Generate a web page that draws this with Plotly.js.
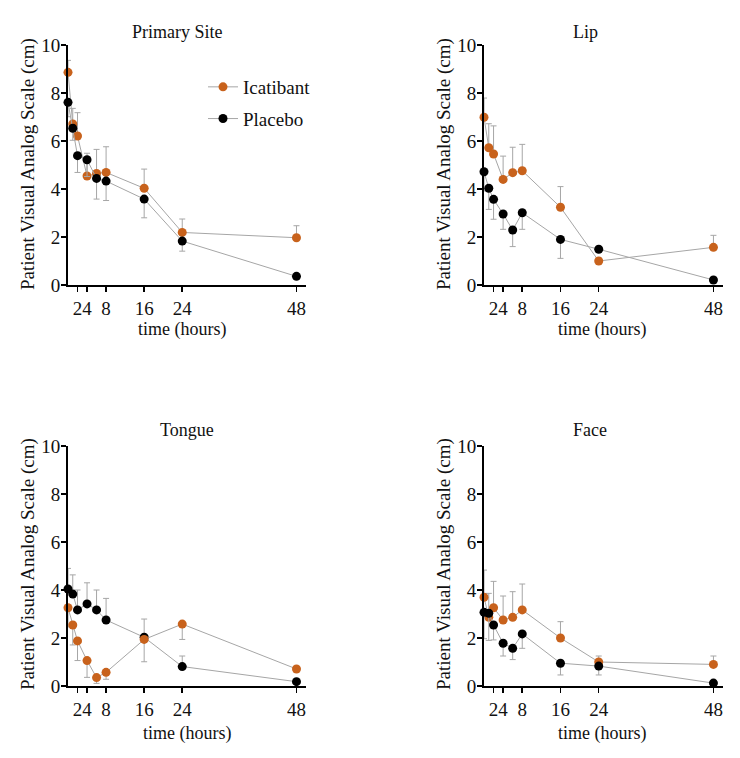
<!DOCTYPE html>
<html lang="en">
<head>
    <meta charset="UTF-8">
    <title>Patient Visual Analog Scale</title>
    <script src="https://cdn.plot.ly/plotly-3.0.1.min.js"></script>
    <style>
        body {
            margin: 0;
            padding: 0;
            background-color: white;
        }
        #chart {
            width: 740px;
            height: 758px;
        }
    </style>
</head>
<body>
    <div id="chart"></div>

    <script>
        // time points (hours)
        const hours = [0, 1, 2, 4, 6, 8, 16, 24, 48];
        const tickHours = [2, 4, 8, 16, 24, 48];

        // Primary Site
        const primaryIcat = [8.86, 6.71, 6.21, 4.54, 4.65, 4.69, 4.03, 2.19, 1.97];
        const primaryIcatErr = [0.5, 0.65, 0.97, 0.95, 1.0, 1.07, 0.8, 0.56, 0.5];
        const primaryPlac = [7.61, 6.53, 5.39, 5.22, 4.44, 4.33, 3.58, 1.83, 0.36];
        const primaryPlacErr = [0.6, 0.5, 0.7, 0.7, 0.86, 0.81, 0.78, 0.42, 0.05];

        // Lip
        const lipIcat = [6.99, 5.72, 5.46, 4.40, 4.68, 4.76, 3.24, 1.0, 1.57];
        const lipIcatErr = [0.8, 1.0, 1.17, 0.97, 1.06, 1.1, 0.86, 0.12, 0.5];
        const lipPlac = [4.72, 4.03, 3.57, 2.96, 2.29, 3.01, 1.9, 1.49, 0.21];
        const lipPlacErr = [0.8, 0.88, 0.83, 0.64, 0.69, 0.69, 0.79, 0.1, 0.05];

        // Tongue
        const tongueIcat = [3.26, 2.54, 1.88, 1.06, 0.35, 0.57, 1.94, 2.58, 0.71];
        const tongueIcatErr = [0.8, 0.83, 0.82, 0.7, 0.24, 0.29, 0.93, 0.64, 0.05];
        const tonguePlac = [4.04, 3.83, 3.17, 3.42, 3.17, 2.75, 2.03, 0.81, 0.18];
        const tonguePlacErr = [0.86, 0.8, 0.83, 0.88, 0.83, 0.9, 0.76, 0.44, 0.05];

        // Face
        const faceIcat = [3.7, 2.86, 3.26, 2.75, 2.86, 3.17, 2.0, 1.0, 0.9];
        const faceIcatErr = [1.13, 1.0, 1.1, 1.0, 1.07, 1.08, 0.68, 0.25, 0.35];
        const facePlac = [3.07, 3.03, 2.54, 1.78, 1.57, 2.17, 0.95, 0.83, 0.12];
        const facePlacErr = [1.1, 1.13, 0.62, 0.53, 0.47, 0.6, 0.49, 0.37, 0.05];

        const ORANGE = '#c8621c';
        const LINE = '#a6a6a6';
        const FONT = 'Liberation Serif';
        const TXT = '#111';

        const zeros = hours.map(() => 0);

        // one-sided error bars, like the original
        function series(name, y, err, up, color, ax, showlegend) {
            return {
                x: hours,
                y: y,
                name: name,
                type: 'scatter',
                mode: 'lines+markers',
                xaxis: 'x' + ax,
                yaxis: 'y' + ax,
                cliponaxis: false,
                showlegend: showlegend,
                line: { color: LINE, width: 1 },
                marker: { color: color, size: 9 },
                error_y: {
                    type: 'data',
                    symmetric: false,
                    array: up ? err : zeros,
                    arrayminus: up ? zeros : err,
                    color: LINE,
                    thickness: 1,
                    width: 3
                }
            };
        }

        const data = [
            series('Icatibant', primaryIcat, primaryIcatErr, true, ORANGE, '', true),
            series('Placebo', primaryPlac, primaryPlacErr, false, 'black', '', true),
            series('Icatibant', lipIcat, lipIcatErr, true, ORANGE, '2', false),
            series('Placebo', lipPlac, lipPlacErr, false, 'black', '2', false),
            series('Placebo', tonguePlac, tonguePlacErr, true, 'black', '3', false),
            series('Icatibant', tongueIcat, tongueIcatErr, false, ORANGE, '3', false),
            series('Icatibant', faceIcat, faceIcatErr, true, ORANGE, '4', false),
            series('Placebo', facePlac, facePlacErr, false, 'black', '4', false)
        ];

        // panel boxes in pixels: [left, right, top, bottom]
        const W = 740, H = 758;
        const boxes = [[68, 306, 45, 285], [484, 723, 45, 285], [68, 306, 446, 686], [484, 723, 446, 686]];

        function xAxis(b) {
            return {
                domain: [b[0] / W, b[1] / W],
                range: [0, 50],
                tickvals: tickHours,
                tickangle: 0,
                ticks: 'outside', ticklen: 5, tickwidth: 1.5, tickcolor: 'black',
                showline: true, linecolor: 'black', linewidth: 2,
                showgrid: false, zeroline: false,
                tickfont: { family: FONT, size: 19, color: TXT }
            };
        }
        function yAxis(b) {
            return {
                domain: [(H - b[3]) / H, (H - b[2]) / H],
                range: [0, 10],
                tickvals: [0, 2, 4, 6, 8, 10],
                ticks: 'outside', ticklen: 5, tickwidth: 1.5, tickcolor: 'black',
                ticklabelstandoff: -3,
                showline: true, linecolor: 'black', linewidth: 2,
                showgrid: false, zeroline: false,
                tickfont: { family: FONT, size: 19, color: TXT }
            };
        }

        // panel titles, placed like the original (in hours along x)
        const titles = [['Primary Site', 22.9, ''], ['Lip', 21.2, '2'], ['Tongue', 24.9, '3'], ['Face', 22.2, '4']];

        const annotations = [];
        titles.forEach((t, i) => {
            annotations.push({
                text: t[0], xref: 'x' + t[2], yref: 'paper',
                x: t[1], y: 1 - (i < 2 ? 32 : 430) / H,
                xanchor: 'center', yanchor: 'middle',
                showarrow: false,
                font: { family: FONT, size: 18, color: TXT }
            });
        });

        // axis titles as annotations so they sit where the original has them
        const xTitlePos = [[182, 329], [602, 329], [187, 733], [602, 733]];
        xTitlePos.forEach(p => {
            annotations.push({
                text: 'time (hours)', xref: 'paper', yref: 'paper',
                x: p[0] / W, y: 1 - p[1] / H,
                xanchor: 'center', yanchor: 'middle',
                showarrow: false,
                font: { family: FONT, size: 18, color: TXT }
            });
        });
        const yTitlePos = [[28, 164], [444, 164], [28, 564], [444, 564]];
        yTitlePos.forEach(p => {
            annotations.push({
                text: 'Patient Visual Analog Scale (cm)', xref: 'paper', yref: 'paper',
                x: p[0] / W, y: 1 - p[1] / H, textangle: -90,
                xanchor: 'center', yanchor: 'middle',
                showarrow: false,
                font: { family: FONT, size: 19, color: TXT }
            });
        });

        const layout = {
            width: W,
            height: H,
            margin: { l: 0, r: 0, t: 0, b: 0 },
            paper_bgcolor: 'white',
            plot_bgcolor: 'white',
            font: { family: FONT, color: TXT },
            legend: {
                x: 203 / W, y: 1 - 68 / H,
                xanchor: 'left', yanchor: 'top',
                bgcolor: 'rgba(0,0,0,0)',
                font: { family: FONT, size: 19 },
                tracegroupgap: 4,
                itemwidth: 30,
                traceorder: 'grouped'
            },
            annotations: annotations
        };

        boxes.forEach((b, i) => {
            const s = i === 0 ? '' : String(i + 1);
            layout['xaxis' + s] = xAxis(b);
            layout['yaxis' + s] = yAxis(b);
            layout['yaxis' + s].anchor = 'x' + s;
            layout['xaxis' + s].anchor = 'y' + s;
        });

        // legend entries as separate groups so the gap applies
        data[0].legendgroup = 'a';
        data[1].legendgroup = 'b';

        Plotly.newPlot('chart', data, layout, { displayModeBar: false, staticPlot: true });
    </script>
</body>
</html>
